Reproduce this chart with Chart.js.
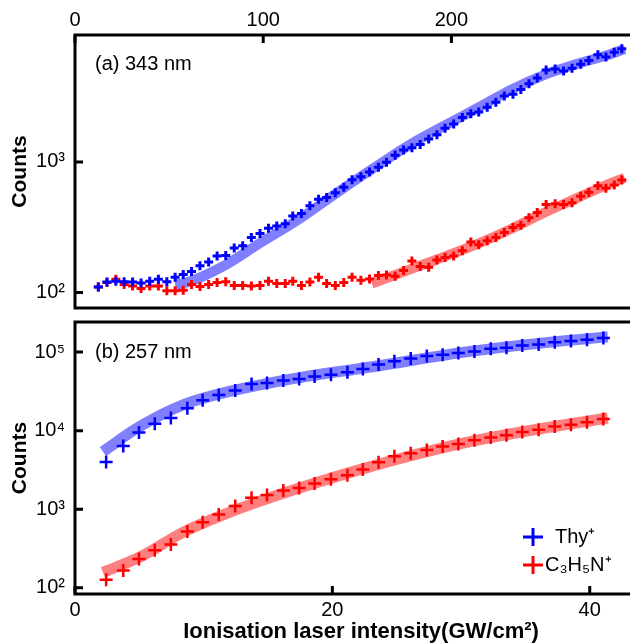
<!DOCTYPE html>
<html>
<head>
<meta charset="utf-8">
<script src="https://cdn.jsdelivr.net/npm/chart.js@4.4.0/dist/chart.umd.min.js"></script>
<style>
  html, body { margin: 0; padding: 0; overflow: hidden; background: #fff; width: 630px; height: 643px; }
  canvas { position: absolute; left: 0; }
  #topChart { top: 0; }
  #bottomChart { top: 300px; }
</style>
</head>
<body>
<canvas id="topChart" width="656" height="330"></canvas>
<canvas id="bottomChart" width="656" height="343"></canvas>
<script>
// panel (a) 343 nm, x on the top axis
const topX = [12.4, 17.0, 21.7, 26.1, 30.6, 35.1, 39.7, 44.3, 48.8, 53.2, 57.5, 61.9, 66.4, 71.0, 75.5, 80.1,
  84.6, 89.1, 93.7, 98.3, 102.8, 107.2, 111.7, 115.7, 120.3, 124.8, 129.4, 133.7, 138.3, 142.8, 147.2,
  151.9, 156.5, 161.2, 165.5, 170.1, 174.6, 179.0, 183.4, 187.9, 192.3, 196.6, 201.2, 205.8, 210.3, 214.5,
  219.0, 223.6, 228.1, 232.7, 236.9, 241.2, 245.6, 250.3, 255.1, 259.6, 264.1, 268.7, 273.0, 277.8, 282.1,
  286.5, 290.5];
const topThy = [110, 120, 122, 121, 120, 118, 122, 126, 121, 131, 137, 145, 160, 171, 190, 192,
  219, 228, 264, 283, 310, 323, 336, 385, 403, 462, 519, 534, 582, 640, 730,
  769, 838, 913, 995, 1128, 1236, 1286, 1361, 1500, 1617, 1813, 1952, 2188, 2344, 2414,
  2632, 2866, 3208, 3304, 3600, 3970, 4398, 5070, 5164, 4990, 5230, 5600, 5990, 6640, 6370,
  6940, 7360];
const topC3 = [110, 119, 126, 115, 112, 107, 112, 112, 103, 103, 104, 115, 111, 115, 119, 121,
  113, 113, 112, 113, 122, 117, 117, 122, 113, 120, 131, 117, 113, 119, 131,
  124, 127, 135, 136, 133, 147, 174, 158, 156, 177, 185, 190, 209, 244, 232,
  249, 264, 288, 314, 327, 373, 410, 473, 479, 473, 487, 546, 585, 656, 629,
  667, 727];
const topFitThyX = [53.2, 59.3, 78.5, 97.7, 118.7, 139.7, 162, 179.5, 197, 214.6, 232, 249.4, 266.9, 284.4, 292];
const topFitThy = [115, 119, 158, 236, 362, 588, 966, 1400, 1920, 2630, 3600, 4650, 5650, 6700, 7350];
const topFitC3X = [157.7, 179.5, 197, 214.5, 232, 249.5, 267, 284.4, 292];
const topFitC3 = [117, 153, 190, 238, 308, 410, 531, 686, 755];

// panel (b) 257 nm
const bottomX = [2.42, 3.75, 4.97, 6.20, 7.45, 8.73, 9.92, 11.17, 12.45, 13.72, 14.92, 16.19, 17.42, 18.62,
  19.89, 21.17, 22.37, 23.59, 24.82, 26.09, 27.34, 28.57, 29.79, 31.04, 32.31, 33.53, 34.76, 36.03,
  37.28, 38.54, 39.79, 41.06];
const bottomThy = [4000, 6380, 9460, 12250, 14530, 19360, 24330, 28370, 32450, 39250, 40440, 43600, 45400, 48800,
  51300, 55400, 61000, 69700, 76600, 82700, 89200, 92800, 97300, 102000, 110000, 113400, 121300, 124800,
  133300, 138700, 143900, 151100];
const bottomC3 = [127, 166, 232, 301, 357, 523, 682, 859, 1101, 1397, 1524, 1727, 1862, 2129,
  2410, 2704, 3208, 3960, 4710, 5180, 5690, 6280, 6760, 7580, 8190, 8750, 9640, 10300,
  11330, 11880, 12840, 14130];
const bottomFitX = [2.17, 4.97, 8.54, 12.1, 17.2, 23.1, 30.7, 40.9, 41.4];
const bottomFitThy = [5430, 11100, 21700, 31800, 46700, 65000, 102000, 154000, 156000];
const bottomFitC3 = [158, 243, 522, 927, 1808, 3540, 7240, 14100, 14500];

const topXTicks = [0, 100, 200];
const topYTicks = [100, 1000];
const bottomXTicks = [0, 20, 40];
const bottomYTicks = [100, 1000, 10000, 100000];

const FONT = "'Liberation Sans', Arial, sans-serif";
const sup = { 2: '\u00b2', 3: '\u00b3', 4: '\u2074', 5: '\u2075' };

function pts(xs, ys) {
  return xs.map((x, i) => ({ x: x, y: ys[i] }));
}

function pointSet(data, color, radius, width) {
  return {
    data: data,
    showLine: false,
    pointStyle: 'cross',
    pointRadius: radius,
    pointBorderWidth: width,
    borderColor: color,
    backgroundColor: color,
    order: 0
  };
}

function fitSet(data, color, width) {
  return {
    data: data,
    showLine: true,
    borderColor: color,
    borderWidth: width,
    pointRadius: 0,
    cubicInterpolationMode: 'monotone',
    fill: false,
    order: 1
  };
}

function fixedTicks(list) {
  return function (scale) {
    scale.ticks = list.map(v => ({ value: v }));
  };
}

// frame, inward tick marks, panel label and legend
const decorPlugin = {
  id: 'decor',
  afterDatasetsDraw(chart, args, opts) {
    const ctx = chart.ctx;
    const a = chart.chartArea;
    const sx = chart.scales.x;
    const sy = chart.scales.y;
    ctx.save();
    ctx.strokeStyle = '#000';
    ctx.lineWidth = 3;
    ctx.strokeRect(a.left, a.top, a.right - a.left, a.bottom - a.top);
    ctx.beginPath();
    sx.ticks.forEach(t => {
      const px = sx.getPixelForValue(t.value);
      if (opts.xTop) {
        ctx.moveTo(px, a.top); ctx.lineTo(px, a.top + 8);
      } else {
        ctx.moveTo(px, a.bottom); ctx.lineTo(px, a.bottom - 8);
      }
    });
    sy.ticks.forEach(t => {
      const py = sy.getPixelForValue(t.value);
      ctx.moveTo(a.left, py); ctx.lineTo(a.left + 8, py);
    });
    ctx.stroke();

    ctx.fillStyle = '#000';
    ctx.font = '20px ' + FONT;
    ctx.textAlign = 'left';
    ctx.textBaseline = 'middle';
    ctx.fillText(opts.label, 95, opts.labelY);

    if (opts.legend) {
      opts.legend.forEach(item => {
        ctx.strokeStyle = item.color;
        ctx.lineWidth = 3;
        ctx.beginPath();
        ctx.moveTo(item.x - 10, item.y); ctx.lineTo(item.x + 10, item.y);
        ctx.moveTo(item.x, item.y - 9); ctx.lineTo(item.x, item.y + 9);
        ctx.stroke();
        ctx.fillStyle = '#000';
        ctx.fillText(item.text, item.tx, item.y);
      });
    }
    ctx.restore();
  }
};

const tickFont = { family: FONT, size: 20 };
const countsFont = { family: FONT, size: 21, weight: 'bold', lineHeight: 1 };
const xTitleFont = { family: FONT, size: 22, weight: 'bold', lineHeight: 1 };

function logLabel(v) {
  return '10' + sup[Math.round(Math.log10(v))];
}

new Chart(document.getElementById('topChart'), {
  type: 'scatter',
  data: {
    datasets: [
      pointSet(pts(topX, topThy), '#0000ff', 4.5, 3),
      pointSet(pts(topX, topC3), '#ff0000', 4.5, 3),
      fitSet(pts(topFitThyX, topFitThy), 'rgba(0,0,255,0.5)', 10),
      fitSet(pts(topFitC3X, topFitC3), 'rgba(255,0,0,0.5)', 10)
    ]
  },
  options: {
    responsive: false,
    animation: false,
    events: [],
    layout: { padding: { left: 0, right: 0, top: 0, bottom: 14 } },
    scales: {
      x: {
        type: 'linear',
        position: 'top',
        min: 0,
        max: 304.7,
        afterBuildTicks: fixedTicks(topXTicks),
        afterFit: s => { s.height = 35; },
        grid: { display: false, drawTicks: false },
        border: { display: false },
        ticks: { font: tickFont, color: '#000', padding: 3, maxRotation: 0 }
      },
      y: {
        type: 'logarithmic',
        min: 76,
        max: 9400,
        afterBuildTicks: fixedTicks(topYTicks),
        afterFit: s => { s.width = 75; },
        grid: { display: false, drawTicks: false },
        border: { display: false },
        ticks: { font: tickFont, color: '#000', padding: 10, callback: logLabel },
        title: { display: true, text: 'Counts', font: countsFont, color: '#000', padding: { top: 9.5, bottom: 0 } }
      }
    },
    plugins: {
      legend: { display: false },
      tooltip: { enabled: false },
      decor: { xTop: true, label: '(a) 343 nm', labelY: 64 }
    }
  },
  plugins: [decorPlugin]
});

new Chart(document.getElementById('bottomChart'), {
  type: 'scatter',
  data: {
    datasets: [
      pointSet(pts(bottomX, bottomThy), '#0000ff', 6.5, 2.5),
      pointSet(pts(bottomX, bottomC3), '#ff0000', 6.5, 2.5),
      fitSet(pts(bottomFitX, bottomFitThy), 'rgba(0,0,255,0.5)', 11),
      fitSet(pts(bottomFitX, bottomFitC3), 'rgba(255,0,0,0.5)', 11)
    ]
  },
  options: {
    responsive: false,
    animation: false,
    events: [],
    layout: { padding: { left: 0, right: 0, top: 16, bottom: 0 } },
    scales: {
      x: {
        type: 'linear',
        position: 'bottom',
        min: 0,
        max: 44.45,
        afterBuildTicks: fixedTicks(bottomXTicks),
        afterFit: s => { s.height = 49; },
        grid: { display: false, drawTicks: false },
        border: { display: false },
        ticks: { font: tickFont, color: '#000', padding: 4, maxRotation: 0 },
        title: {
          display: true,
          text: 'Ionisation laser intensity(GW/cm\u00b2)',
          font: xTitleFont,
          color: '#000',
          padding: { top: 0, bottom: 0 }
        }
      },
      y: {
        type: 'logarithmic',
        min: 83.5,
        max: 241500,
        afterBuildTicks: fixedTicks(bottomYTicks),
        afterFit: s => { s.width = 75; },
        grid: { display: false, drawTicks: false },
        border: { display: false },
        ticks: { font: tickFont, color: '#000', padding: 10, callback: logLabel },
        title: { display: true, text: 'Counts', font: countsFont, color: '#000', padding: { top: 9.5, bottom: 0 } }
      }
    },
    plugins: {
      legend: { display: false },
      tooltip: { enabled: false },
      decor: {
        xTop: false,
        label: '(b) 257 nm',
        labelY: 52,
        legend: [
          { text: 'Thy\u207a', color: '#0000ff', x: 533, y: 237, tx: 555 },
          { text: 'C\u2083H\u2085N\u207a', color: '#ff0000', x: 533, y: 265, tx: 545 }
        ]
      }
    }
  },
  plugins: [decorPlugin]
});
</script>
</body>
</html>
